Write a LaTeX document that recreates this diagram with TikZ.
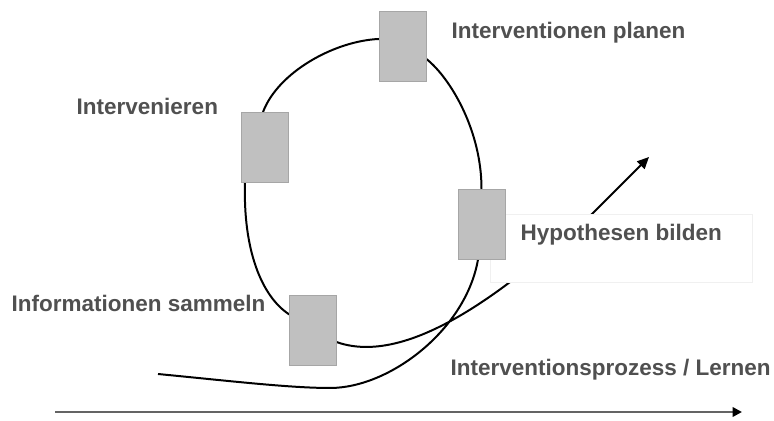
\documentclass[tikz,border=0pt]{standalone}
\usepackage{fontspec}
\setmainfont{Liberation Sans}
\usepackage{tikz}
\usetikzlibrary{arrows.meta,calc,backgrounds}
\definecolor{boxgray}{RGB}{192,192,192}
\definecolor{boxedge}{RGB}{166,166,166}
\definecolor{txtgray}{RGB}{80,80,80}
\definecolor{axisgray}{RGB}{100,100,100}
\tikzset{
  stepbox/.style={draw=boxedge, fill=boxgray, line width=0.7pt,
    minimum width=1.41cm, minimum height=2.1cm, inner sep=0pt},
  labelbg/.style={draw=black!6, fill=white, line width=0.5pt,
    minimum width=7.86cm, minimum height=2.04cm, inner sep=0pt},
  lbl/.style={anchor=base west, inner sep=0pt, text=txtgray,
    font=\fontsize{19.2}{23}\selectfont\bfseries},
  spiral/.style={line width=1.7pt, draw=black,
    -{Triangle[length=10pt,width=9pt]}},
  timeline/.style={line width=2.2pt, draw=axisgray,
    -{Triangle[length=8pt,width=8pt,color=black]}}
}

\begin{document}
\begin{tikzpicture}[x=0.03cm, y=0.03cm]
\useasboundingbox (0,0) rectangle (774,421);
% the four steps
\node[stepbox] (planbox) at (402.5,374.5) {};
\node[stepbox] (intbox) at (265,273.5) {};
\node[stepbox] (hypbox) at (481.5,197) {};
\node[stepbox] (infobox) at (312.5,90.5) {};
\coordinate (spstart) at (158,47);
\coordinate (spbottom) at (330,33);
\coordinate (spexit) at (592,207);
\coordinate (sptip) at (649,264);
\begin{pgfonlayer}{background}
% one turn of the spiral
\draw[spiral] (spstart) .. controls +(72,-7) and +(-40,0) .. (spbottom)
  .. controls +(60,0) and +(-12,-70) .. ($(hypbox.south)+(-3.5,0)$)
  -- (hypbox.north)
  .. controls +(0,58) and +(24,-19) .. ($(planbox.east)+(0,-12.5)$)
  -- ($(planbox.west)+(0,7.5)$)
  .. controls +(-44,-2) and +(15,40) .. ($(intbox.north)+(-2,0)$)
  -- ($(intbox.south)+(-20,0)$)
  .. controls +(-2,-67) and +(-27,18) .. ($(infobox.west)+(0,16.5)$)
  -- ($(infobox.east)+(0,-11.5)$)
  .. controls +(84,-30) and +(-52,-44) .. (spexit)
  -- (sptip);
\node[labelbg] (hypbg) at (621,173) {};
\end{pgfonlayer}
% labels
\node[lbl] (planlbl) at (451.5,382) {Interventionen planen};
\node[lbl] (intlbl) at (76.5,306) {Intervenieren};
\node[lbl] (hyplbl) at (520.5,180) {Hypothesen bilden};
\node[lbl] (infolbl) at (11.5,109) {Informationen sammeln};
\node[lbl] (proclbl) at (450.5,45) {Interventionsprozess / Lernen};
% time axis
\coordinate (tstart) at (55,9);
\coordinate (tend) at (742,9);
\draw[timeline] (tstart) -- (tend);
\end{tikzpicture}
\end{document}
